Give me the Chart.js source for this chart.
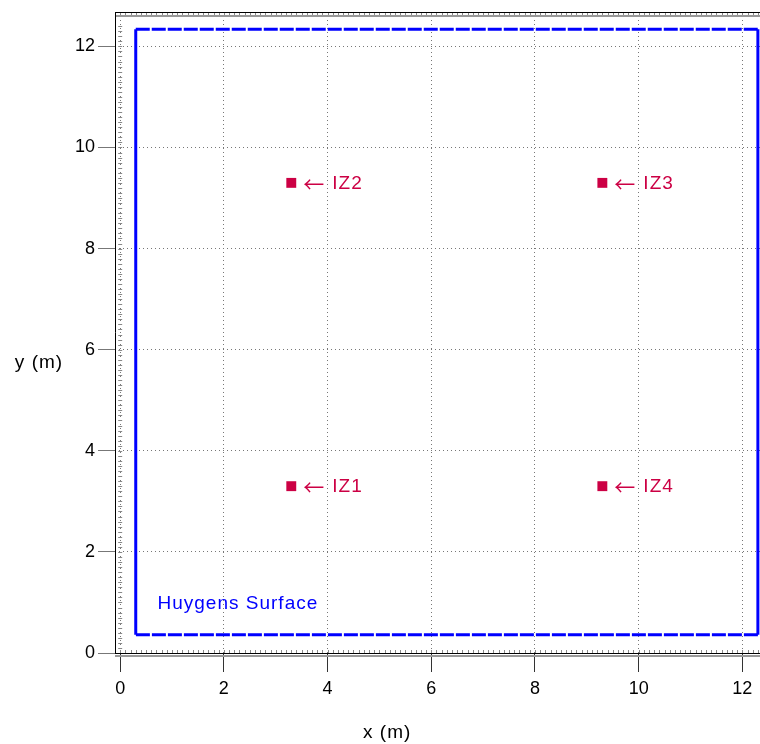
<!DOCTYPE html>
<html>
<head>
<meta charset="utf-8">
<script src="https://cdn.jsdelivr.net/npm/chart.js@4/dist/chart.umd.min.js"></script>
<style>
  html, body { margin: 0; padding: 0; background: #fff; overflow: hidden; width: 760px; height: 744px; }
  #wrap { width: 768px; height: 744px; position: relative; }
</style>
</head>
<body>
<div id="wrap"><canvas id="chart"></canvas></div>
<script>
// Huygens surface outline (m)
const surfaceX = [0.3, 0.3, 12.3, 12.3, 0.3];
const surfaceY = [0.36, 12.34, 12.34, 0.36, 0.36];

// observation points
const zoneNames = ['IZ1', 'IZ2', 'IZ3', 'IZ4'];
const zoneX = [3.3, 3.3, 9.3, 9.3];
const zoneY = [3.3, 9.3, 9.3, 3.3];

// axis ticks
const xTicks = [0, 2, 4, 6, 8, 10, 12];
const yTicks = [0, 2, 4, 6, 8, 10, 12];

const surfaceLabel = 'Huygens Surface';
const zoneColor = '#cc0044';
const surfaceColor = '#0000ff';
const font = '"Liberation Sans", Arial, sans-serif';

// no extra room for the outer tick labels
function noPad(s) {
    s.paddingLeft = 0;
    s.paddingRight = 0;
    s.paddingTop = 0;
    s.paddingBottom = 0;
}

// labels, frame, rug ticks and axis titles
const decorations = {
    id: 'decorations',
    afterDatasetsDraw(chart) {
        const ctx = chart.ctx;
        const area = chart.chartArea;
        const xs = chart.scales.x, ys = chart.scales.y;
        ctx.save();
        ctx.letterSpacing = '1px';

        // zone labels
        const meta = chart.getDatasetMeta(1);
        ctx.fillStyle = zoneColor;
        ctx.textBaseline = 'middle';
        ctx.textAlign = 'left';
        meta.data.forEach((pt, i) => {
            ctx.font = '21px "Noto Sans CJK JP", sans-serif';
            ctx.fillText('\u2190', pt.x + 12, pt.y + 1);
            ctx.font = '19px ' + font;
            ctx.fillText(zoneNames[i], pt.x + 41, pt.y + 1);
        });

        // surface label
        ctx.fillStyle = surfaceColor;
        ctx.font = '19px ' + font;
        ctx.fillText(surfaceLabel, xs.getPixelForValue(0.72), ys.getPixelForValue(0.97));

        // rug ticks along the frame
        ctx.letterSpacing = '0px';
        ctx.strokeStyle = '#888';
        ctx.lineWidth = 1;
        ctx.beginPath();
        for (let v = 0; v <= 12.4; v += 0.1) {
            const px = Math.round(xs.getPixelForValue(v)) + 0.5;
            if (px < area.right) {
                ctx.moveTo(px, area.bottom - 3);
                ctx.lineTo(px, area.bottom);
                ctx.moveTo(px, area.top + 1);
                ctx.lineTo(px, area.top + 4);
            }
            const py = Math.round(ys.getPixelForValue(v)) + 0.5;
            if (py > area.top) {
                const x0 = xs.getPixelForValue(0);
                ctx.moveTo(x0 - 2, py);
                ctx.lineTo(x0 + 2, py);
            }
        }
        ctx.stroke();

        // frame
        ctx.strokeStyle = '#999';
        ctx.lineWidth = 2;
        ctx.beginPath();
        ctx.moveTo(area.left, area.top + 4);
        ctx.lineTo(area.right, area.top + 4);
        ctx.moveTo(area.left, area.bottom + 3);
        ctx.lineTo(area.right, area.bottom + 3);
        ctx.stroke();
        ctx.strokeStyle = '#000';
        ctx.lineWidth = 1;
        ctx.beginPath();
        ctx.moveTo(area.left, area.top + 0.5);
        ctx.lineTo(area.right, area.top + 0.5);
        ctx.moveTo(area.left + 0.5, area.top);
        ctx.lineTo(area.left + 0.5, area.bottom);
        ctx.moveTo(area.left, area.bottom + 0.5);
        ctx.lineTo(area.right, area.bottom + 0.5);
        ctx.stroke();

        // axis titles
        ctx.letterSpacing = '1px';
        ctx.fillStyle = '#000';
        ctx.font = '19px ' + font;
        ctx.textAlign = 'center';
        ctx.textBaseline = 'middle';
        ctx.fillText('y (m)', 39, ys.getPixelForValue(5.75));
        ctx.fillText('x (m)', xs.getPixelForValue(5.15), 733);
        ctx.restore();
    }
};

new Chart(document.getElementById('chart'), {
    type: 'scatter',
    data: {
        datasets: [
            {
                type: 'line',
                data: surfaceX.map((x, i) => ({ x: x, y: surfaceY[i] })),
                borderColor: surfaceColor,
                borderWidth: 3,
                pointRadius: 0,
                fill: false,
                tension: 0,
                segment: {
                    borderDash: s => (s.p0.parsed.y === s.p1.parsed.y ? [14, 2] : undefined)
                }
            },
            {
                data: zoneX.map((x, i) => ({ x: x, y: zoneY[i] })),
                pointStyle: 'rect',
                pointRadius: 7,
                backgroundColor: zoneColor,
                borderColor: zoneColor,
                borderWidth: 0
            }
        ]
    },
    options: {
        responsive: true,
        maintainAspectRatio: false,
        animation: false,
        layout: { padding: { top: 12, right: 0, left: 0, bottom: 0 } },
        plugins: {
            legend: { display: false },
            tooltip: { enabled: false }
        },
        scales: {
            x: {
                type: 'linear',
                min: -0.1,
                max: 12.36,
                afterBuildTicks: s => { s.ticks = xTicks.map(v => ({ value: v })); },
                afterFit: s => { s.height = 91; noPad(s); },
                ticks: {
                    color: '#000',
                    font: { family: font, size: 18 },
                    padding: 6,
                    maxRotation: 0
                },
                grid: {
                    color: '#777',
                    tickColor: '#333',
                    tickLength: 19,
                    tickBorderDash: [],
                    lineWidth: 1
                },
                border: { display: false, dash: [1, 3] }
            },
            y: {
                type: 'linear',
                min: 0,
                max: 12.68,
                afterBuildTicks: s => { s.ticks = yTicks.map(v => ({ value: v })); },
                afterFit: s => { s.width = 115; noPad(s); },
                ticks: {
                    color: '#000',
                    font: { family: font, size: 18 },
                    padding: 3
                },
                grid: {
                    color: '#777',
                    tickColor: '#777',
                    tickLength: 17,
                    tickBorderDash: [],
                    lineWidth: 1
                },
                border: { display: false, dash: [1, 3] }
            }
        }
    },
    plugins: [decorations]
});
</script>
</body>
</html>
